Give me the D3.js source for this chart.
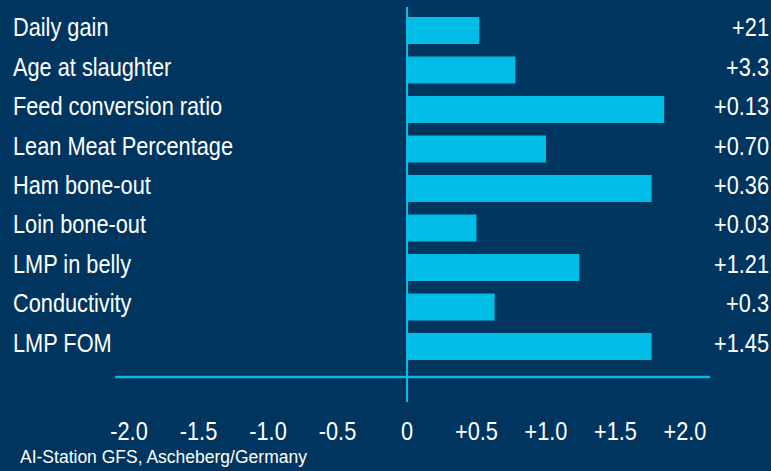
<!DOCTYPE html>
<html>
<head>
<meta charset="utf-8">
<script src="https://cdn.jsdelivr.net/npm/d3@7"></script>
<style>
  html, body { margin: 0; padding: 0; background: #00355f; }
  svg { display: block; }
  text { font-family: "Liberation Sans", Arial, sans-serif; fill: #ffffff; }
</style>
</head>
<body>
<svg></svg>
<script>
const traits = ["Daily gain", "Age at slaughter", "Feed conversion ratio", "Lean Meat Percentage",
                "Ham bone-out", "Loin bone-out", "LMP in belly", "Conductivity", "LMP FOM"];
// bar length on the common axis
const values = [0.52, 0.78, 1.85, 1.00, 1.76, 0.50, 1.24, 0.63, 1.76];
// breeding value shown at the right
const labels = ["+21", "+3.3", "+0.13", "+0.70", "+0.36", "+0.03", "+1.21", "+0.3", "+1.45"];
const ticks = [-2, -1.5, -1, -0.5, 0, 0.5, 1, 1.5, 2];
const source = "AI-Station GFS, Ascheberg/Germany";

const width = 771, height = 471;
const narrow = 0.87; // no narrow font installed, squeeze regular one

const svg = d3.select("svg").attr("width", width).attr("height", height);

svg.append("rect").attr("width", width).attr("height", height).attr("fill", "#00355f");

const x = d3.scaleLinear().domain([-2, 2]).range([129, 685]);
const y = d3.scaleBand().domain(traits).range([17, 360]).paddingInner(0.316).paddingOuter(0);

const cyan = "#00bde6";

// bars
svg.append("g")
  .selectAll("rect")
  .data(values)
  .join("rect")
    .attr("x", x(0))
    .attr("y", (d, i) => y(traits[i]))
    .attr("width", d => x(d) - x(0))
    .attr("height", y.bandwidth())
    .attr("fill", cyan);

// zero line
svg.append("line")
  .attr("x1", x(0)).attr("x2", x(0))
  .attr("y1", 7).attr("y2", 402)
  .attr("stroke", cyan).attr("stroke-width", 2);

// horizontal axis line
svg.append("line")
  .attr("x1", x(-2.1)).attr("x2", x(2.18))
  .attr("y1", 377).attr("y2", 377)
  .attr("stroke", cyan).attr("stroke-width", 2.5);

const squeeze = (tx, ty) => `translate(${tx},${ty}) scale(${narrow},1)`;

// trait names
svg.append("g")
  .selectAll("text")
  .data(traits)
  .join("text")
    .attr("transform", d => squeeze(13, y(d) + y.bandwidth() / 2))
    .attr("dy", "0.22em")
    .style("font-size", "25px")
    .text(d => d);

// values at right
svg.append("g")
  .selectAll("text")
  .data(labels)
  .join("text")
    .attr("transform", (d, i) => squeeze(769, y(traits[i]) + y.bandwidth() / 2))
    .attr("dy", "0.22em")
    .attr("text-anchor", "end")
    .style("font-size", "25px")
    .text(d => d);

// tick labels
const fmt = d => d === 0 ? "0" : (d > 0 ? "+" : "-") + Math.abs(d).toFixed(1);
svg.append("g")
  .selectAll("text")
  .data(ticks)
  .join("text")
    .attr("transform", d => squeeze(x(d), 440))
    .attr("text-anchor", "middle")
    .style("font-size", "25px")
    .text(fmt);

// source
svg.append("text")
  .attr("x", 20)
  .attr("y", 463)
  .style("font-size", "17.5px")
  .text(source);
</script>
</body>
</html>
